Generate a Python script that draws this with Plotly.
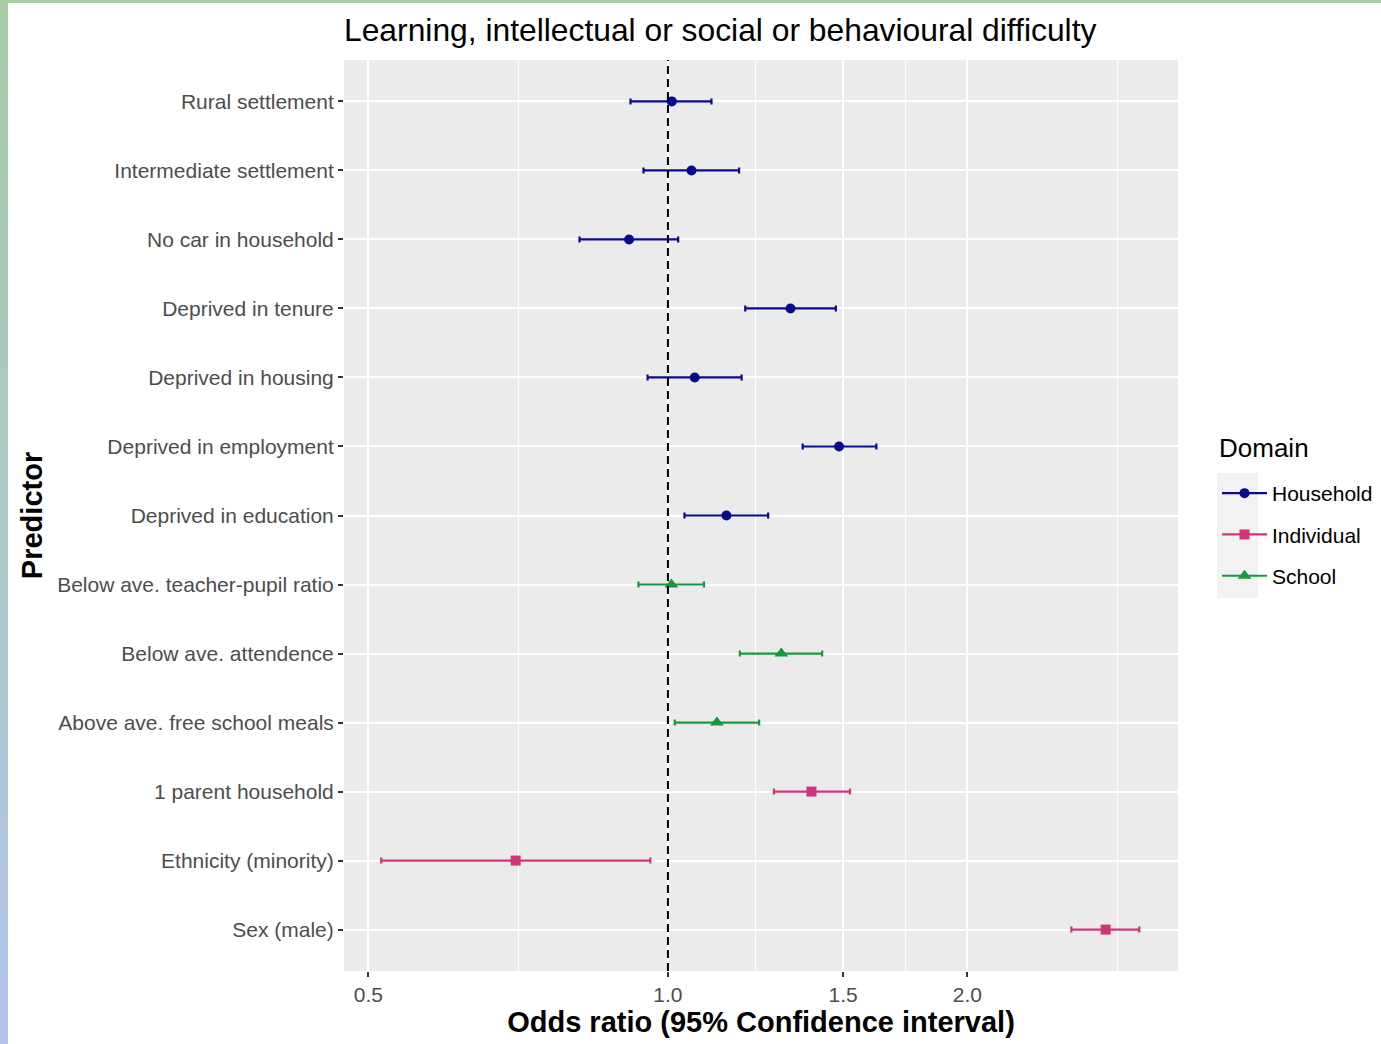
import plotly.graph_objects as go

# ---------------- data ----------------
predictors = ["Rural settlement", "Intermediate settlement", "No car in household",
              "Deprived in tenure", "Deprived in housing", "Deprived in employment",
              "Deprived in education", "Below ave. teacher-pupil ratio",
              "Below ave. attendence", "Above ave. free school meals",
              "1 parent household", "Ethnicity (minority)", "Sex (male)"]
domain = ["Household"] * 7 + ["School"] * 3 + ["Individual"] * 3
odds = [1.009, 1.056, 0.914, 1.328, 1.064, 1.486, 1.145, 1.008, 1.300, 1.120, 1.394, 0.703, 2.754]
lower = [0.917, 0.945, 0.815, 1.196, 0.954, 1.366, 1.039, 0.934, 1.181, 1.016, 1.278, 0.515, 2.544]
upper = [1.106, 1.179, 1.024, 1.475, 1.186, 1.620, 1.261, 1.087, 1.429, 1.235, 1.524, 0.960, 2.977]

domains = ["Household", "Individual", "School"]
colors = {"Household": "#0A0A8C", "Individual": "#CF3579", "School": "#16993B"}
symbols = {"Household": "circle", "Individual": "square", "School": "triangle-up"}
msizes = {"Household": 10, "Individual": 10, "School": 12}

x_ticks = [0.5, 1.0, 1.5, 2.0]
x_tick_text = ["0.5", "1.0", "1.5", "2.0"]
x_minor = [0.7071, 1.2247, 1.7321, 2.8284]

W, H = 1381, 1044
L, R, T, B = 344, 1178, 60, 971

fig = go.Figure()

for d in domains:
    idx = [i for i, v in enumerate(domain) if v == d]
    xs = [odds[i] for i in idx]
    ys = [predictors[i] for i in idx]
    fig.add_trace(go.Scatter(
        x=xs, y=ys, mode="markers", showlegend=False,
        marker=dict(color=colors[d], symbol=symbols[d], size=msizes[d], line=dict(width=0)),
        error_x=dict(type="data", symmetric=False,
                     array=[upper[i] - odds[i] for i in idx],
                     arrayminus=[odds[i] - lower[i] for i in idx],
                     color=colors[d], thickness=2.2, width=3),
    ))

for d in domains:
    fig.add_trace(go.Scatter(
        x=[None], y=[None], mode="lines+markers", name=d, legendgroup=d,
        marker=dict(color=colors[d], symbol=symbols[d], size=msizes[d]),
        line=dict(color=colors[d], width=2.2),
    ))


def px2x(px):
    return (px - L) / (R - L)


def py2y(py):
    return (B - py) / (B - T)


shapes = []
# reference line at OR = 1
shapes.append(dict(type="line", xref="x", yref="paper", x0=1, x1=1, y0=0, y1=1,
                   line=dict(color="black", width=2, dash="8px,5px"), layer="above"))
# legend key background
shapes.append(dict(type="rect", xref="paper", yref="paper",
                   x0=px2x(1217), x1=px2x(1258), y0=py2y(473), y1=py2y(598),
                   fillcolor="#F2F2F2", line=dict(width=0), layer="below"))

# decorative gradient frame (left and top)
c0 = (168, 204, 165)
c1 = (175, 195, 234)
n = 40
for k in range(n):
    t = k / (n - 1)
    col = "rgb(%d,%d,%d)" % tuple(round(c0[j] + (c1[j] - c0[j]) * t) for j in range(3))
    y_top = k * H / n
    y_bot = (k + 1) * H / n
    shapes.append(dict(type="rect", xref="paper", yref="paper",
                       x0=px2x(0), x1=px2x(8), y0=py2y(y_bot + 1), y1=py2y(y_top),
                       fillcolor=col, line=dict(width=0), layer="below"))
shapes.append(dict(type="rect", xref="paper", yref="paper",
                   x0=px2x(0), x1=px2x(W), y0=py2y(3), y1=py2y(0),
                   fillcolor="rgb(169,205,166)", line=dict(width=0), layer="below"))

annotations = [dict(text="Domain", xref="paper", yref="paper", x=px2x(1217), y=py2y(448),
                    xanchor="left", yanchor="middle", showarrow=False,
                    font=dict(size=26, color="black"))]

fig.update_layout(
    width=W, height=H,
    margin=dict(l=L, r=W - R, t=T, b=H - B, autoexpand=False),
    paper_bgcolor="white", plot_bgcolor="#EBEBEB",
    font=dict(family="Liberation Sans, Arial, sans-serif", color="#4D4D4D"),
    title=dict(text="Learning, intellectual or social or behavioural difficulty",
               xref="paper", x=0, xanchor="left", yref="container", y=1 - 30 / H,
               yanchor="middle", font=dict(size=31.8, color="black")),
    xaxis=dict(type="log", range=[-0.3256, 0.5127],
               tickmode="array", tickvals=x_ticks, ticktext=x_tick_text,
               showgrid=True, gridcolor="white", gridwidth=2, zeroline=False,
               ticks="outside", ticklen=5, tickwidth=2, tickcolor="#333333",
               tickfont=dict(size=21, color="#4D4D4D"),
               minor=dict(tickmode="array", tickvals=x_minor, showgrid=True,
                          gridcolor="white", gridwidth=1, ticks=""),
               title=dict(text="<b>Odds ratio (95% Confidence interval)</b>",
                          font=dict(size=29, color="black"), standoff=6),
               showline=False),
    yaxis=dict(type="category", categoryorder="array", categoryarray=predictors,
               range=[len(predictors) - 1 + 0.6, -0.6],
               showgrid=True, gridcolor="white", gridwidth=2, zeroline=False,
               ticks="outside", ticklen=5, tickwidth=2, tickcolor="#333333",
               tickfont=dict(size=21, color="#4D4D4D"),
               title=dict(text="<b>Predictor</b>", font=dict(size=29, color="black"),
                          standoff=5),
               showline=False),
    legend=dict(x=px2x(1217), xanchor="left", y=py2y(473), yanchor="top",
                bgcolor="rgba(0,0,0,0)", font=dict(size=21, color="black"),
                traceorder="grouped", tracegroupgap=11, itemwidth=45),
    shapes=shapes,
    annotations=annotations,
)

fig.write_html("out.html", config={"displayModeBar": False},
               post_script="document.body.style.margin='0px';document.body.style.overflow='hidden';")
